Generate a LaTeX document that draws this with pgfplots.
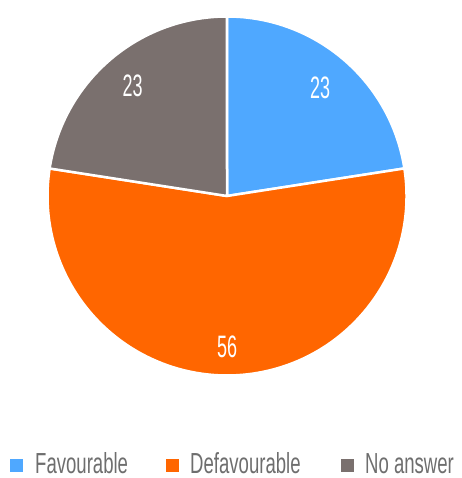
\documentclass[border=0pt]{standalone}
\usepackage{pgfplots}
\usepackage{pgfplotstable}
\pgfplotsset{compat=1.18}
\usetikzlibrary{calc}
\usepackage{fontspec}
\setmainfont[FakeStretch=0.64]{Liberation Sans}
\newfontfamily\numfont[FakeStretch=0.58]{Liberation Sans}

\definecolor{cfav}{HTML}{4FA8FF}
\definecolor{cdef}{HTML}{FF6600}
\definecolor{cno}{HTML}{7A706E}
\definecolor{ctxt}{HTML}{6E6E6E}

\pgfplotstableread{
label value
Favourable 23
Defavourable 56
NoAnswer 23
}\piedata

\pgfplotstablegetelem{0}{value}\of\piedata \let\va\pgfplotsretval
\pgfplotstablegetelem{1}{value}\of\piedata \let\vb\pgfplotsretval
\pgfplotstablegetelem{2}{value}\of\piedata \let\vc\pgfplotsretval
\pgfmathsetmacro\tot{\va+\vb+\vc}
% slice boundaries, clockwise from 12 o'clock
\pgfmathsetmacro\aA{90}
\pgfmathsetmacro\aB{90-360*(\va/\tot)}
\pgfmathsetmacro\aC{\aB-360*(\vb/\tot)}
\pgfmathsetmacro\aD{\aC-360*(\vc/\tot)}
\pgfmathsetmacro\mA{(\aA+\aB)/2}
\pgfmathsetmacro\mB{(\aB+\aC)/2}
\pgfmathsetmacro\mC{(\aC+\aD)/2}

\begin{document}
\begin{tikzpicture}
\begin{axis}[
  width=461pt, height=478pt, scale only axis,
  xmin=0, xmax=461, ymin=0, ymax=478,
  hide axis, clip=false,
]
\path (axis cs:0,0) rectangle (axis cs:461,478);
\def\R{179.5pt}
\filldraw[fill=cfav, draw=white, line width=2.5pt, line join=round]
  (axis cs:227,282) -- ++(\aA:\R) arc[start angle=\aA, end angle=\aB, radius=\R] -- cycle;
\filldraw[fill=cdef, draw=white, line width=2.5pt, line join=round]
  (axis cs:227,282) -- ++(\aB:\R) arc[start angle=\aB, end angle=\aC, radius=\R] -- cycle;
\filldraw[fill=cno, draw=white, line width=2.5pt, line join=round]
  (axis cs:227,282) -- ++(\aC:\R) arc[start angle=\aC, end angle=\aD, radius=\R] -- cycle;

\node[white, font=\numfont\fontsize{31}{32}\selectfont] at ($(axis cs:227,282)+(\mA:143pt)$) {\va};
\node[white, font=\numfont\fontsize{31}{32}\selectfont] at ($(axis cs:227,282)+(\mB:151pt)$) {\vb};
\node[white, font=\numfont\fontsize{31}{32}\selectfont] at ($(axis cs:227,282)+(\mC:145pt)$) {\vc};

% legend
\fill[cfav] (axis cs:10,6) rectangle (axis cs:22.5,18.5);
\fill[cdef] (axis cs:166,6) rectangle (axis cs:178.5,18.5);
\fill[cno]  (axis cs:341,6) rectangle (axis cs:353.5,18.5);
\node[anchor=base west, inner sep=0pt, text=ctxt, font=\fontsize{29}{30}\selectfont] at (axis cs:35,5) {Favourable};
\node[anchor=base west, inner sep=0pt, text=ctxt, font=\fontsize{29}{30}\selectfont] at (axis cs:190,5) {Defavourable};
\node[anchor=base west, inner sep=0pt, text=ctxt, font=\fontsize{29}{30}\selectfont] at (axis cs:365,5) {No answer};
\end{axis}
\end{tikzpicture}
\end{document}
